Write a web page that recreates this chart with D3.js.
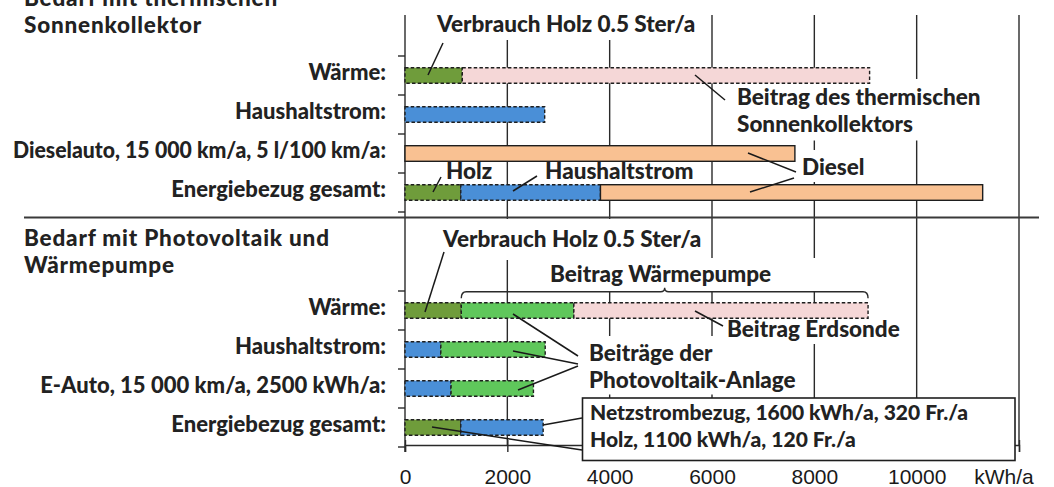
<!DOCTYPE html>
<html><head><meta charset="utf-8">
<script src="https://cdn.jsdelivr.net/npm/d3@7"></script>
<style>
body{margin:0;background:#fff}
svg{display:block}
.lbl{font-family:Lato,"Noto Sans",sans-serif;font-weight:900;fill:#222}
.ttl{letter-spacing:0.8px}
.tick{font-family:"Liberation Sans",Arial,sans-serif;fill:#1a1a1a}
</style>
</head><body>
<svg id="c" width="1054" height="487"></svg>
<script>
// ---------- data ----------
const xTicks = [0, 2000, 4000, 6000, 8000, 10000];
const xMax = 12000;
const xUnit = "kWh/a";

const topTitle = ["Bedarf mit thermischen", "Sonnenkollektor"];
const topCategories = ["Wärme:", "Haushaltstrom:", "Dieselauto, 15\u202F000 km/a, 5 l/100 km/a:", "Energiebezug gesamt:"];
const topHolz   = [1120, 0, 0, 1090];
const topStrom  = [0, 2730, 0, 2730];
const topSolar  = [7960, 0, 0, 0];
const topDiesel = [0, 0, 7620, 7470];

const bottomTitle = ["Bedarf mit Photovoltaik und", "Wärmepumpe"];
const bottomCategories = ["Wärme:", "Haushaltstrom:", "E-Auto, 15\u202F000 km/a, 2500 kWh/a:", "Energiebezug gesamt:"];
const bottomHolz      = [1100, 0, 0, 1090];
const bottomNetz      = [0, 700, 900, 1610];
const bottomPV        = [2200, 2040, 1610, 0];
const bottomErdsonde  = [5750, 0, 0, 0];

const boxLines = ["Netzstrombezug, 1600 kWh/a, 320 Fr./a", "Holz, 1100 kWh/a, 120 Fr./a"];

// ---------- styles ----------
const colors = {
  holz: "#6f9c3b", strom: "#4a8fd7", solar: "#f5d7d7", diesel: "#f9c192",
  netz: "#4a8fd7", pv: "#5fc75b", erd: "#f5d7d7"
};
const FS = 22.5;   // titles and annotations
const CFS = 22;    // category labels
const BFS = 21;    // box text
const TFS = 21;    // axis tick labels

const svg = d3.select("#c");

const x = d3.scaleLinear().domain([0, xMax]).range([405, 1019]);
const yTop = d3.scaleBand().domain(topCategories).range([56, 212]).paddingInner(0.6).paddingOuter(0.3);
const yBot = d3.scaleBand().domain(bottomCategories).range([291, 447]).paddingInner(0.6).paddingOuter(0.3);

const gridTop = 15, axisY = 445;

const gridG = svg.append("g");
const annoG = svg.append("g");
const barG = svg.append("g");

// gridlines
const gridVals = xTicks.slice(1).concat([xMax]);
gridG.selectAll("line").data(gridVals).join("line")
  .attr("x1", d => x(d)).attr("x2", d => x(d))
  .attr("y1", gridTop).attr("y2", axisY)
  .attr("stroke", "#2a2a2a").attr("stroke-width", 1.4);

// separator
svg.append("line").attr("x1", 24).attr("x2", 1039).attr("y1", 217.5).attr("y2", 217.5)
  .attr("stroke", "#3a3a3a").attr("stroke-width", 2.2);

// x axis
const xAxis = d3.axisBottom(x).tickValues(xTicks.concat([xMax])).tickSize(7).tickFormat(d => xTicks.includes(d) ? d : "");
const gx = gridG.append("g").attr("transform", `translate(0,${axisY})`).call(xAxis);
gx.attr("font-family", null).attr("font-size", null);
gx.select(".domain").attr("stroke", "#2a2a2a").attr("stroke-width", 1.4);
gx.selectAll(".tick line").attr("stroke", "#2a2a2a").attr("stroke-width", 1.4).attr("y1", -5);
gx.selectAll(".tick text").attr("class", "tick").attr("font-size", TFS).attr("y", 39).attr("dy", 0);
svg.append("text").attr("class", "tick").attr("font-size", TFS)
  .attr("x", 1004).attr("y", axisY + 39).attr("text-anchor", "middle").text(xUnit);

// y axis line
gridG.append("line").attr("x1", x(0)).attr("x2", x(0)).attr("y1", gridTop).attr("y2", axisY + 7)
  .attr("stroke", "#2a2a2a").attr("stroke-width", 1.4);

function bandTicks(y) {
  const r = y.range(), n = y.domain().length;
  return d3.range(n + 1).map(i => r[0] + i * y.step());
}
[yTop, yBot].forEach(y => {
  gridG.append("g").selectAll("line").data(bandTicks(y)).join("line")
    .attr("x1", x(0) - 7).attr("x2", x(0)).attr("y1", d => d).attr("y2", d => d)
    .attr("stroke", "#2a2a2a").attr("stroke-width", 1.4);
});

// titles
function title(lines, xPos, y0) {
  const t = svg.append("text").attr("class", "lbl ttl").attr("font-size", FS);
  lines.forEach((l, i) => t.append("tspan").attr("x", xPos).attr("y", y0 + i * 27).text(l));
}
title(topTitle, 24, 6);
title(bottomTitle, 24, 246);

// category labels (fit into the left margin)
const labelRight = 386, labelMaxW = 373;
function catLabels(cats, y) {
  svg.append("g").selectAll("text").data(cats).join("text")
    .attr("class", "lbl").attr("font-size", CFS)
    .attr("x", labelRight).attr("y", d => y(d) + y.bandwidth() / 2 + 4)
    .attr("text-anchor", "end").text(d => d)
    .each(function () {
      if (this.getComputedTextLength() > labelMaxW) {
        d3.select(this).attr("textLength", labelMaxW).attr("lengthAdjust", "spacingAndGlyphs");
      }
    });
}
catLabels(topCategories, yTop);
catLabels(bottomCategories, yBot);

// bars
function drawBars(cats, y, series, keys) {
  const rows = cats.map((c, i) => {
    const o = { cat: c };
    keys.forEach(k => o[k] = series[k][i]);
    return o;
  });
  const stack = d3.stack().keys(keys)(rows);
  const g = barG.append("g");
  stack.forEach(s => {
    g.selectAll(null).data(s.filter(d => d[1] - d[0] > 0)).join("rect")
      .attr("x", d => x(d[0])).attr("width", d => x(d[1]) - x(d[0]))
      .attr("y", d => y(d.data.cat)).attr("height", y.bandwidth())
      .attr("fill", colors[s.key])
      .attr("stroke", "#1e1e1e").attr("stroke-width", 1.4)
      .attr("stroke-dasharray", s.key === "diesel" ? null : "3.5,2.2");
  });
  return stack;
}
drawBars(topCategories, yTop,
  { holz: topHolz, strom: topStrom, solar: topSolar, diesel: topDiesel },
  ["holz", "strom", "solar", "diesel"]);
drawBars(bottomCategories, yBot,
  { holz: bottomHolz, netz: bottomNetz, pv: bottomPV, erd: bottomErdsonde },
  ["holz", "netz", "pv", "erd"]);

// annotation texts with white backgrounds
function anno(lines, xPos, y0, pad, lh = 26.5) {
  const t = svg.append("text").attr("class", "lbl").attr("font-size", FS);
  lines.forEach((l, i) => t.append("tspan").attr("x", xPos).attr("y", y0 + i * lh).text(l));
  const b = t.node().getBBox();
  annoG.append("rect").attr("x", b.x - pad[0]).attr("y", b.y - pad[1])
    .attr("width", b.width + pad[0] + pad[2]).attr("height", b.height + pad[1] + pad[3])
    .attr("fill", "#fff");
  return t;
}
// top panel
anno(["Verbrauch Holz 0.5 Ster/a"], 437, 32, [8, 4, 8, 3]);
anno(["Beitrag des thermischen", "Sonnenkollektors"], 737, 105, [10, 4, 8, 4]);
anno(["Holz"], 446, 179, [6, 3, 8, 1]);
anno(["Haushaltstrom"], 545, 179, [4, 3, 4, 1]);
anno(["Diesel"], 802, 175, [4, 3, 4, 2]);
// bottom panel
anno(["Verbrauch Holz 0.5 Ster/a"], 443, 247, [4, 6, 4, 8]);
anno(["Beitrag Wärmepumpe"], 550, 282, [8, 2, 45, 4]);
anno(["Beitrag Erdsonde"], 727, 337, [4, 3, 4, 2]);
anno(["Beiträge der", "Photovoltaik-Anlage"], 589, 361, [6, 3, 6, 2]);

// bracket: Beitrag Wärmepumpe
const wStart = x(bottomHolz[0]), wEnd = x(bottomHolz[0] + bottomPV[0] + bottomErdsonde[0]);
const wMid = (wStart + wEnd) / 2;
const by = 291.7, bh = 6.5;
svg.append("path")
  .attr("d", `M${wStart},${by + bh} Q${wStart},${by} ${wStart + 5},${by} L${wMid - 4},${by} Q${wMid},${by} ${wMid},${by - 4} Q${wMid},${by} ${wMid + 4},${by} L${wEnd - 5},${by} Q${wEnd},${by} ${wEnd},${by + bh}`)
  .attr("fill", "none").attr("stroke", "#2a2a2a").attr("stroke-width", 1.4);

// box
svg.append("rect").attr("x", 582.5).attr("y", 398).attr("width", 432.5).attr("height", 62.5)
  .attr("fill", "#fff").attr("stroke", "#1e1e1e").attr("stroke-width", 1.6);
const bt = svg.append("text").attr("class", "lbl").attr("font-size", BFS);
boxLines.forEach((l, i) => bt.append("tspan").attr("x", 590).attr("y", 420 + i * 26.5).text(l));

// leaders
const leaders = [
  [443, 43, 428, 75],
  [695, 75, 725, 100],
  [441, 177, 433, 192],
  [537, 176, 513, 191],
  [748, 153, 796, 172],
  [794, 178, 750, 192],
  [444, 252, 425, 312],
  [695, 311, 723, 326],
  [513, 314, 578, 356],
  [513, 351, 578, 364],
  [518, 390, 578, 366],
  [543, 425, 582, 418],
  [432, 427, 582, 450]
];
svg.append("g").selectAll("line").data(leaders).join("line")
  .attr("x1", d => d[0]).attr("y1", d => d[1]).attr("x2", d => d[2]).attr("y2", d => d[3])
  .attr("stroke", "#1a1a1a").attr("stroke-width", 1.5);
</script>
</body></html>
